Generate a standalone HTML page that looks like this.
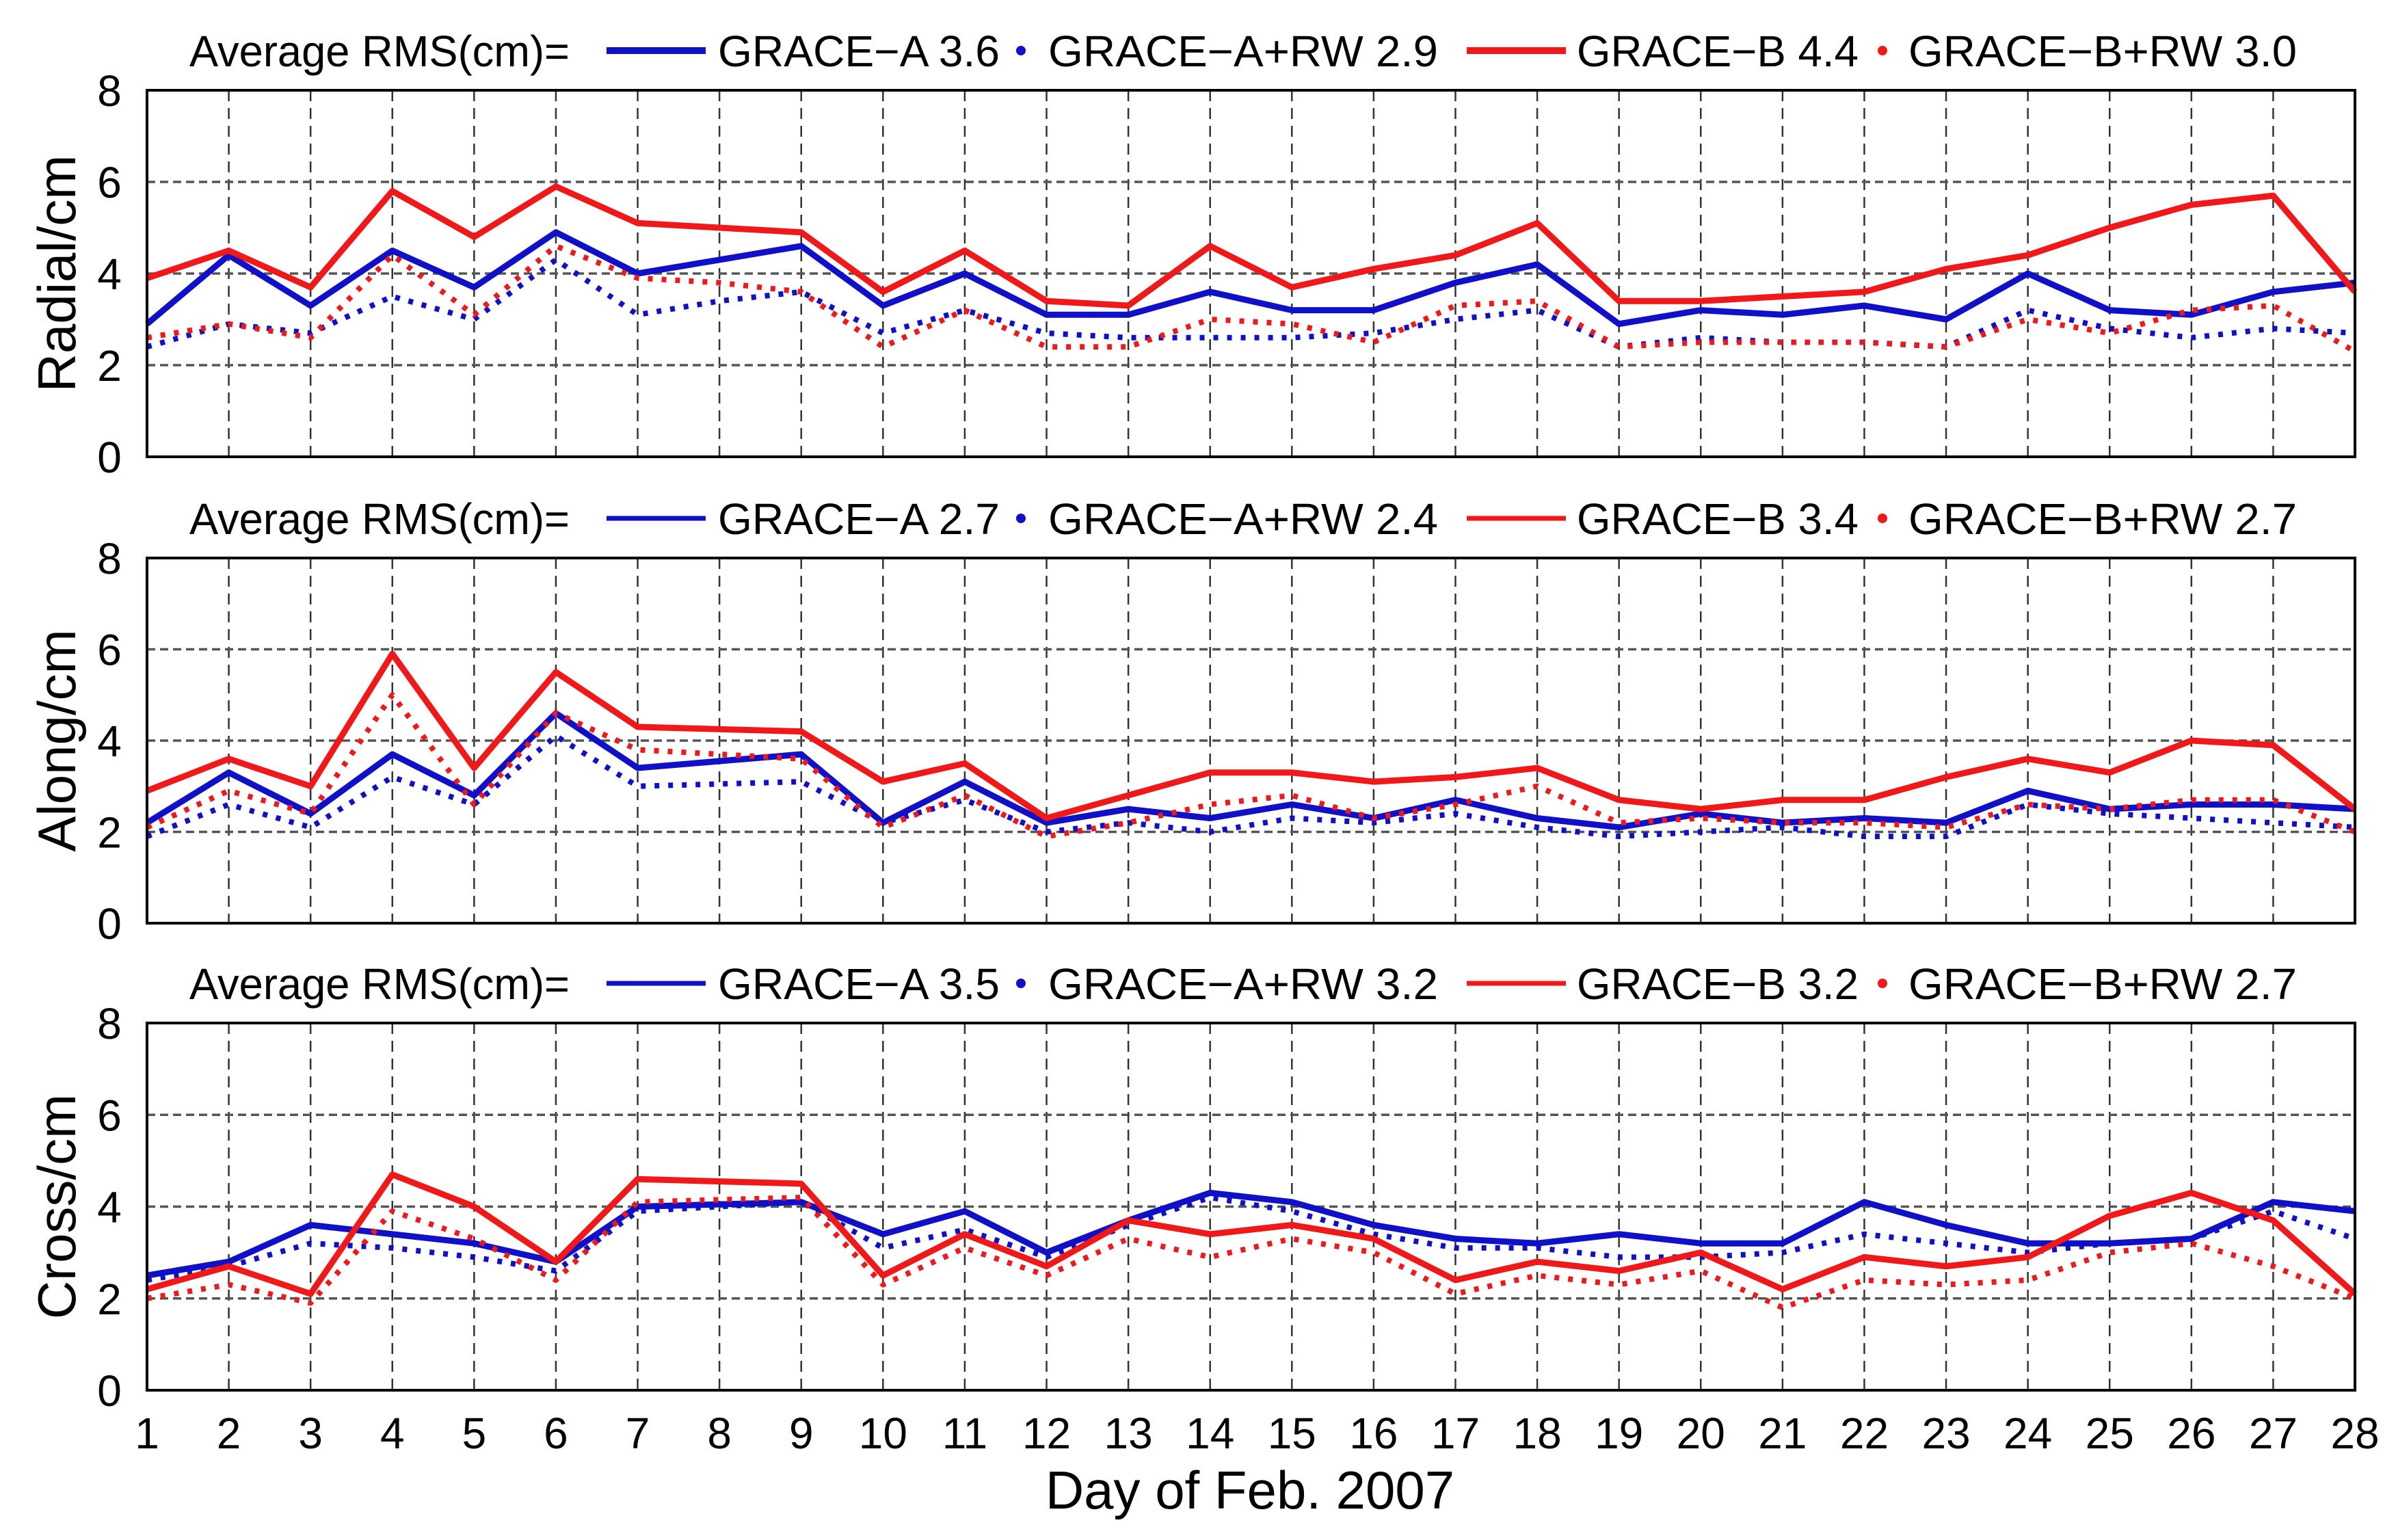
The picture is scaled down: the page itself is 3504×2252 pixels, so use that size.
<!DOCTYPE html>
<html><head><meta charset="utf-8">
<style>
html,body{margin:0;padding:0;background:#fff;}
svg{display:block;}
text{font-family:"Liberation Sans",sans-serif;fill:#000;}
</style></head>
<body>
<svg id="chart" width="3504" height="2252" viewBox="0 0 3504 2252" xmlns="http://www.w3.org/2000/svg">
<rect width="3504" height="2252" fill="#fff"/>
</svg>
<script>
const days = [1,2,3,4,5,6,7,8,9,10,11,12,13,14,15,16,17,18,19,20,21,22,23,24,25,26,27,28];
const yTicks = [0,2,4,6,8];
const panelTitles = ["Radial/cm","Along/cm","Cross/cm"];
const avgA = ["3.6","2.7","3.5"];
const avgARW = ["2.9","2.4","3.2"];
const avgB = ["4.4","3.4","3.2"];
const avgBRW = ["3.0","2.7","2.7"];

const radialA = [2.9,4.4,3.3,4.5,3.7,4.9,4.0,4.3,4.6,3.3,4.0,3.1,3.1,3.6,3.2,3.2,3.8,4.2,2.9,3.2,3.1,3.3,3.0,4.0,3.2,3.1,3.6,3.8];
const radialB = [3.9,4.5,3.7,5.8,4.8,5.9,5.1,5.0,4.9,3.6,4.5,3.4,3.3,4.6,3.7,4.1,4.4,5.1,3.4,3.4,3.5,3.6,4.1,4.4,5.0,5.5,5.7,3.6];
const radialARW = [2.4,2.9,2.7,3.5,3.0,4.3,3.1,3.4,3.6,2.7,3.2,2.7,2.6,2.6,2.6,2.7,3.0,3.2,2.4,2.6,2.5,2.5,2.4,3.2,2.8,2.6,2.8,2.7];
const radialBRW = [2.6,2.9,2.6,4.4,3.1,4.6,3.9,3.8,3.6,2.4,3.2,2.4,2.4,3.0,2.9,2.5,3.3,3.4,2.4,2.5,2.5,2.5,2.4,3.0,2.7,3.2,3.3,2.3];

const alongA = [2.2,3.3,2.4,3.7,2.8,4.6,3.4,3.55,3.7,2.2,3.1,2.2,2.5,2.3,2.6,2.3,2.7,2.3,2.1,2.4,2.2,2.3,2.2,2.9,2.5,2.6,2.6,2.5];
const alongB = [2.9,3.6,3.0,5.9,3.4,5.5,4.3,4.25,4.2,3.1,3.5,2.3,2.8,3.3,3.3,3.1,3.2,3.4,2.7,2.5,2.7,2.7,3.2,3.6,3.3,4.0,3.9,2.5];
const alongARW = [1.9,2.6,2.1,3.2,2.6,4.1,3.0,3.05,3.1,2.2,2.7,2.0,2.2,2.0,2.3,2.2,2.4,2.1,1.9,2.0,2.1,1.9,1.9,2.6,2.4,2.3,2.2,2.1];
const alongBRW = [2.1,2.9,2.4,5.0,2.6,4.6,3.8,3.7,3.6,2.1,2.8,1.9,2.2,2.6,2.8,2.3,2.6,3.0,2.2,2.3,2.2,2.2,2.1,2.6,2.5,2.7,2.7,2.0];

const crossA = [2.5,2.8,3.6,3.4,3.2,2.8,4.0,4.05,4.1,3.4,3.9,3.0,3.7,4.3,4.1,3.6,3.3,3.2,3.4,3.2,3.2,4.1,3.6,3.2,3.2,3.3,4.1,3.9];
const crossB = [2.2,2.7,2.1,4.7,4.0,2.8,4.6,4.55,4.5,2.5,3.4,2.7,3.7,3.4,3.6,3.3,2.4,2.8,2.6,3.0,2.2,2.9,2.7,2.9,3.8,4.3,3.7,2.1];
const crossARW = [2.4,2.7,3.2,3.1,2.9,2.6,3.9,4.0,4.1,3.1,3.5,2.9,3.6,4.2,3.9,3.4,3.1,3.1,2.9,2.9,3.0,3.4,3.2,3.0,3.2,3.3,3.9,3.3];
const crossBRW = [2.0,2.3,1.9,3.9,3.3,2.4,4.1,4.15,4.2,2.3,3.1,2.5,3.3,2.9,3.3,3.0,2.1,2.5,2.3,2.6,1.8,2.4,2.3,2.4,3.0,3.2,2.7,2.0];

const panelData = [
  [radialA, radialARW, radialB, radialBRW],
  [alongA, alongARW, alongB, alongBRW],
  [crossA, crossARW, crossB, crossBRW]
];

const svg = document.getElementById('chart');
const NS = 'http://www.w3.org/2000/svg';
const X0 = 215, X1 = 3444;
const panels = [{top:132,bot:668},{top:816,bot:1350},{top:1496,bot:2033}];
function xs(d){ return X0 + (d-1)/(27)*(X1-X0); }
function mk(tag, attrs, parent){
  const e = document.createElementNS(NS, tag);
  for (const k in attrs) e.setAttribute(k, attrs[k]);
  (parent||svg).appendChild(e);
  return e;
}
const seriesStyle = [
  {color:'#1010c8', dash:null, name:'grace-a'},
  {color:'#1010c8', dash:'7 13', name:'grace-a-rw'},
  {color:'#f01818', dash:null, name:'grace-b'},
  {color:'#f01818', dash:'7 13', name:'grace-b-rw'}
];

panels.forEach((p, pi) => {
  const g = mk('g', {});
  
  
  const ys = v => p.bot - v/8*(p.bot-p.top);
  days.forEach(d => {
    if (d===1 || d===28) return;
    const l = mk('line', {x1:xs(d), x2:xs(d), y1:p.top, y2:p.bot, stroke:'#333', 'stroke-width':2.5, 'stroke-dasharray':'16 10'}, g);
    
    
  });
  yTicks.forEach(t => {
    if (t!==0 && t!==8) {
      const l = mk('line', {x1:X0, x2:X1, y1:ys(t), y2:ys(t), stroke:'#555', 'stroke-width':3.5, 'stroke-dasharray':'12 7'}, g);
      
      
    }
    const tx = mk('text', {x:160, y:ys(t)+23, 'font-size':64, 'text-anchor':'middle'}, g);
    tx.textContent = t;
    
    
  });
  panelData[pi].forEach((arr, si) => {
    const st = seriesStyle[si];
    const pts = arr.map((v,i) => xs(days[i]) + ',' + ys(v)).join(' ');
    const attrs = {points:pts, fill:'none', stroke:st.color, 'stroke-width':9, 'stroke-linejoin':'round'};
    if (st.dash) { attrs['stroke-dasharray'] = st.dash; attrs['stroke-width'] = 8; }
    const pl = mk('polyline', attrs, g);
    
    
  });
  const fr = mk('rect', {x:X0, y:p.top, width:X1-X0, height:p.bot-p.top, fill:'none', stroke:'#000', 'stroke-width':4}, g);
  
  
  const cy = (p.top+p.bot)/2;
  const yt = mk('text', {x:0, y:0, 'font-size':78, 'text-anchor':'middle', transform:'translate(110,'+cy+') rotate(-90)'}, g);
  yt.textContent = panelTitles[pi];
  
  
  const ly = p.top - 58;
  const lg = mk('g', {}, g);
  
  
  const t1 = mk('text', {x:277, y:ly+23, 'font-size':64, textLength:556, lengthAdjust:'spacingAndGlyphs'}, lg);
  t1.textContent = 'Average RMS(cm)=';
  
  
  const entries = [
    {sx:887, tx:1050, tw:412, txt:'GRACE\u2212A ' + avgA[pi], color:'#1010c8', line:true},
    {sx:1493, tx:1533, tw:570, txt:'GRACE\u2212A+RW  ' + avgARW[pi], color:'#1010c8', line:false},
    {sx:2145, tx:2306, tw:412, txt:'GRACE\u2212B ' + avgB[pi], color:'#f01818', line:true},
    {sx:2753, tx:2791, tw:568, txt:'GRACE\u2212B+RW  ' + avgBRW[pi], color:'#f01818', line:false}
  ];
  entries.forEach(en => {
    let m;
    if (en.line) m = mk('line', {x1:en.sx, x2:en.sx+145, y1:ly, y2:ly, stroke:en.color, 'stroke-width':pi===0?10:7}, lg);
    else m = mk('circle', {cx:en.sx, cy:ly, r:7, fill:en.color}, lg);
    
    
    const t = mk('text', {x:en.tx, y:ly+23, 'font-size':64, textLength:en.tw, lengthAdjust:'spacingAndGlyphs'}, lg);
    t.textContent = en.txt;
    
    
  });
});
days.forEach(d => {
  const t = mk('text', {x:xs(d), y:2118, 'font-size':64, 'text-anchor':'middle'});
  t.textContent = d;
  
  
});
const xt = mk('text', {x:1828, y:2206, 'font-size':78, 'text-anchor':'middle'});
xt.textContent = 'Day of Feb. 2007';


</script>
</body></html>
